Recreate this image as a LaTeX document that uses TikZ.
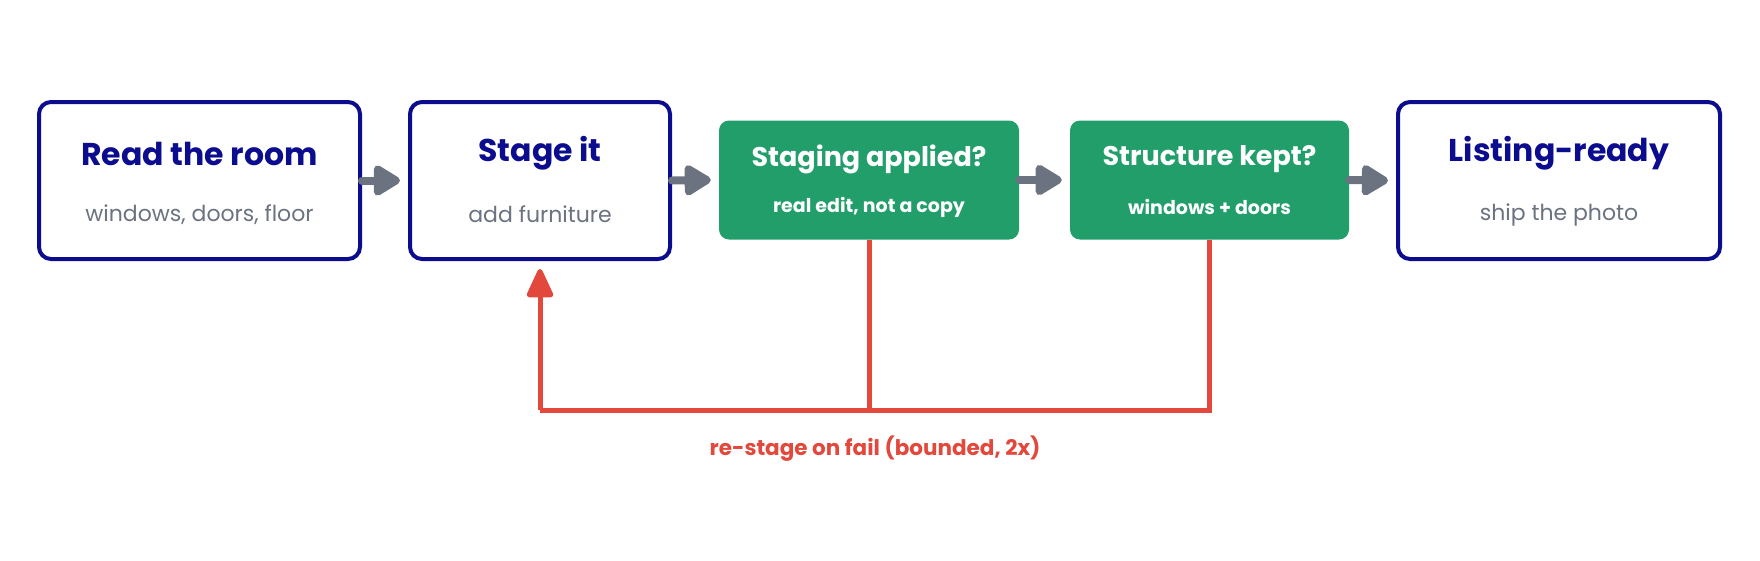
\documentclass[tikz,border=0pt]{standalone}
\usepackage{fontspec}
\setmainfont{Poppins}
\usetikzlibrary{arrows.meta}
\definecolor{navy}{HTML}{0C0C8E}
\definecolor{slate}{HTML}{6B7280}
\definecolor{okgreen}{HTML}{229E6B}
\definecolor{failred}{HTML}{E2493C}
\begin{document}
\begin{tikzpicture}[x=1pt,y=-1pt,
  outbox/.style={draw=navy, line width=4pt, rounded corners=12pt, fill=white,
    minimum height=157pt, inner sep=0pt},
  checkbox/.style={fill=okgreen, rounded corners=10pt, minimum height=119pt, inner sep=0pt},
  title/.style={text=navy, font=\fontsize{31.5}{34}\selectfont\bfseries, inner sep=0pt},
  sub/.style={text=slate, font=\fontsize{22}{25}\selectfont, inner sep=0pt},
  ctitle/.style={text=white, font=\fontsize{27}{30}\selectfont\bfseries, inner sep=0pt},
  csub/.style={text=white, font=\fontsize{19}{22}\selectfont\bfseries, inner sep=0pt},
  flow/.style={draw=slate, line width=8pt, line cap=round,
    -{Triangle[length=30pt,width=34pt,round]}},
  retry/.style={draw=failred, line width=5pt},
  note/.style={text=failred, font=\fontsize{21.5}{24}\selectfont\bfseries, inner sep=0pt}]
\useasboundingbox (0,0) rectangle (1760,560);

% pipeline steps
\node[outbox, minimum width=321pt] (read)  at (199.5,180.5) {};
\node[outbox, minimum width=260pt] (stage) at (540,180.5) {};
\node[checkbox, minimum width=300pt] (applied) at (869,180) {};
\node[checkbox, minimum width=279pt] (kept) at (1209.5,180) {};
\node[outbox, minimum width=322pt] (ready) at (1559,180.5) {};

% step texts
\node[title] (readT)  at ([yshift=27pt]read.center) {Read the room};
\node[sub]   (readS)  at ([yshift=-34pt]read.center) {windows, doors, floor};
\node[title] (stageT) at ([yshift=27pt]stage.center) {Stage it};
\node[sub]   (stageS) at ([yshift=-34pt]stage.center) {add furniture};
\node[ctitle] (appliedT) at ([yshift=21pt]applied.center) {Staging applied?};
\node[csub]   (appliedS) at ([yshift=-27pt]applied.center) {real edit, not a copy};
\node[ctitle] (keptT) at ([yshift=21pt]kept.center) {Structure kept?};
\node[csub]   (keptS) at ([yshift=-27pt]kept.center) {windows + doors};
\node[title] (readyT) at ([yshift=27pt]ready.center) {Listing-ready};
\node[sub]   (readyS) at ([yshift=-34pt]ready.center) {ship the photo};

% forward flow
\draw[flow] (read.east) -- ([xshift=-8pt]stage.west);
\draw[flow] (stage.east) -- ([xshift=-8pt]applied.west);
\draw[flow] (applied.east) -- ([xshift=-8pt]kept.west);
\draw[flow] (kept.east) -- ([xshift=-8pt]ready.west);

% retry loop back to staging
\coordinate (j1) at (applied.south |- 0,410);
\coordinate (j2) at (kept.south |- 0,410);
\coordinate (j0) at (stage.south |- 0,410);
\draw[retry] (applied.south) -- (j1);
\draw[retry] (kept.south) -- (j2) -- (j0);
\draw[retry, -{Triangle[length=32pt,width=28pt,round]}] (j0) -- ([yshift=-8pt]stage.south);
\node[note] (retryL) at (875,449) {re-stage on fail (bounded, 2x)};
\end{tikzpicture}
\end{document}
